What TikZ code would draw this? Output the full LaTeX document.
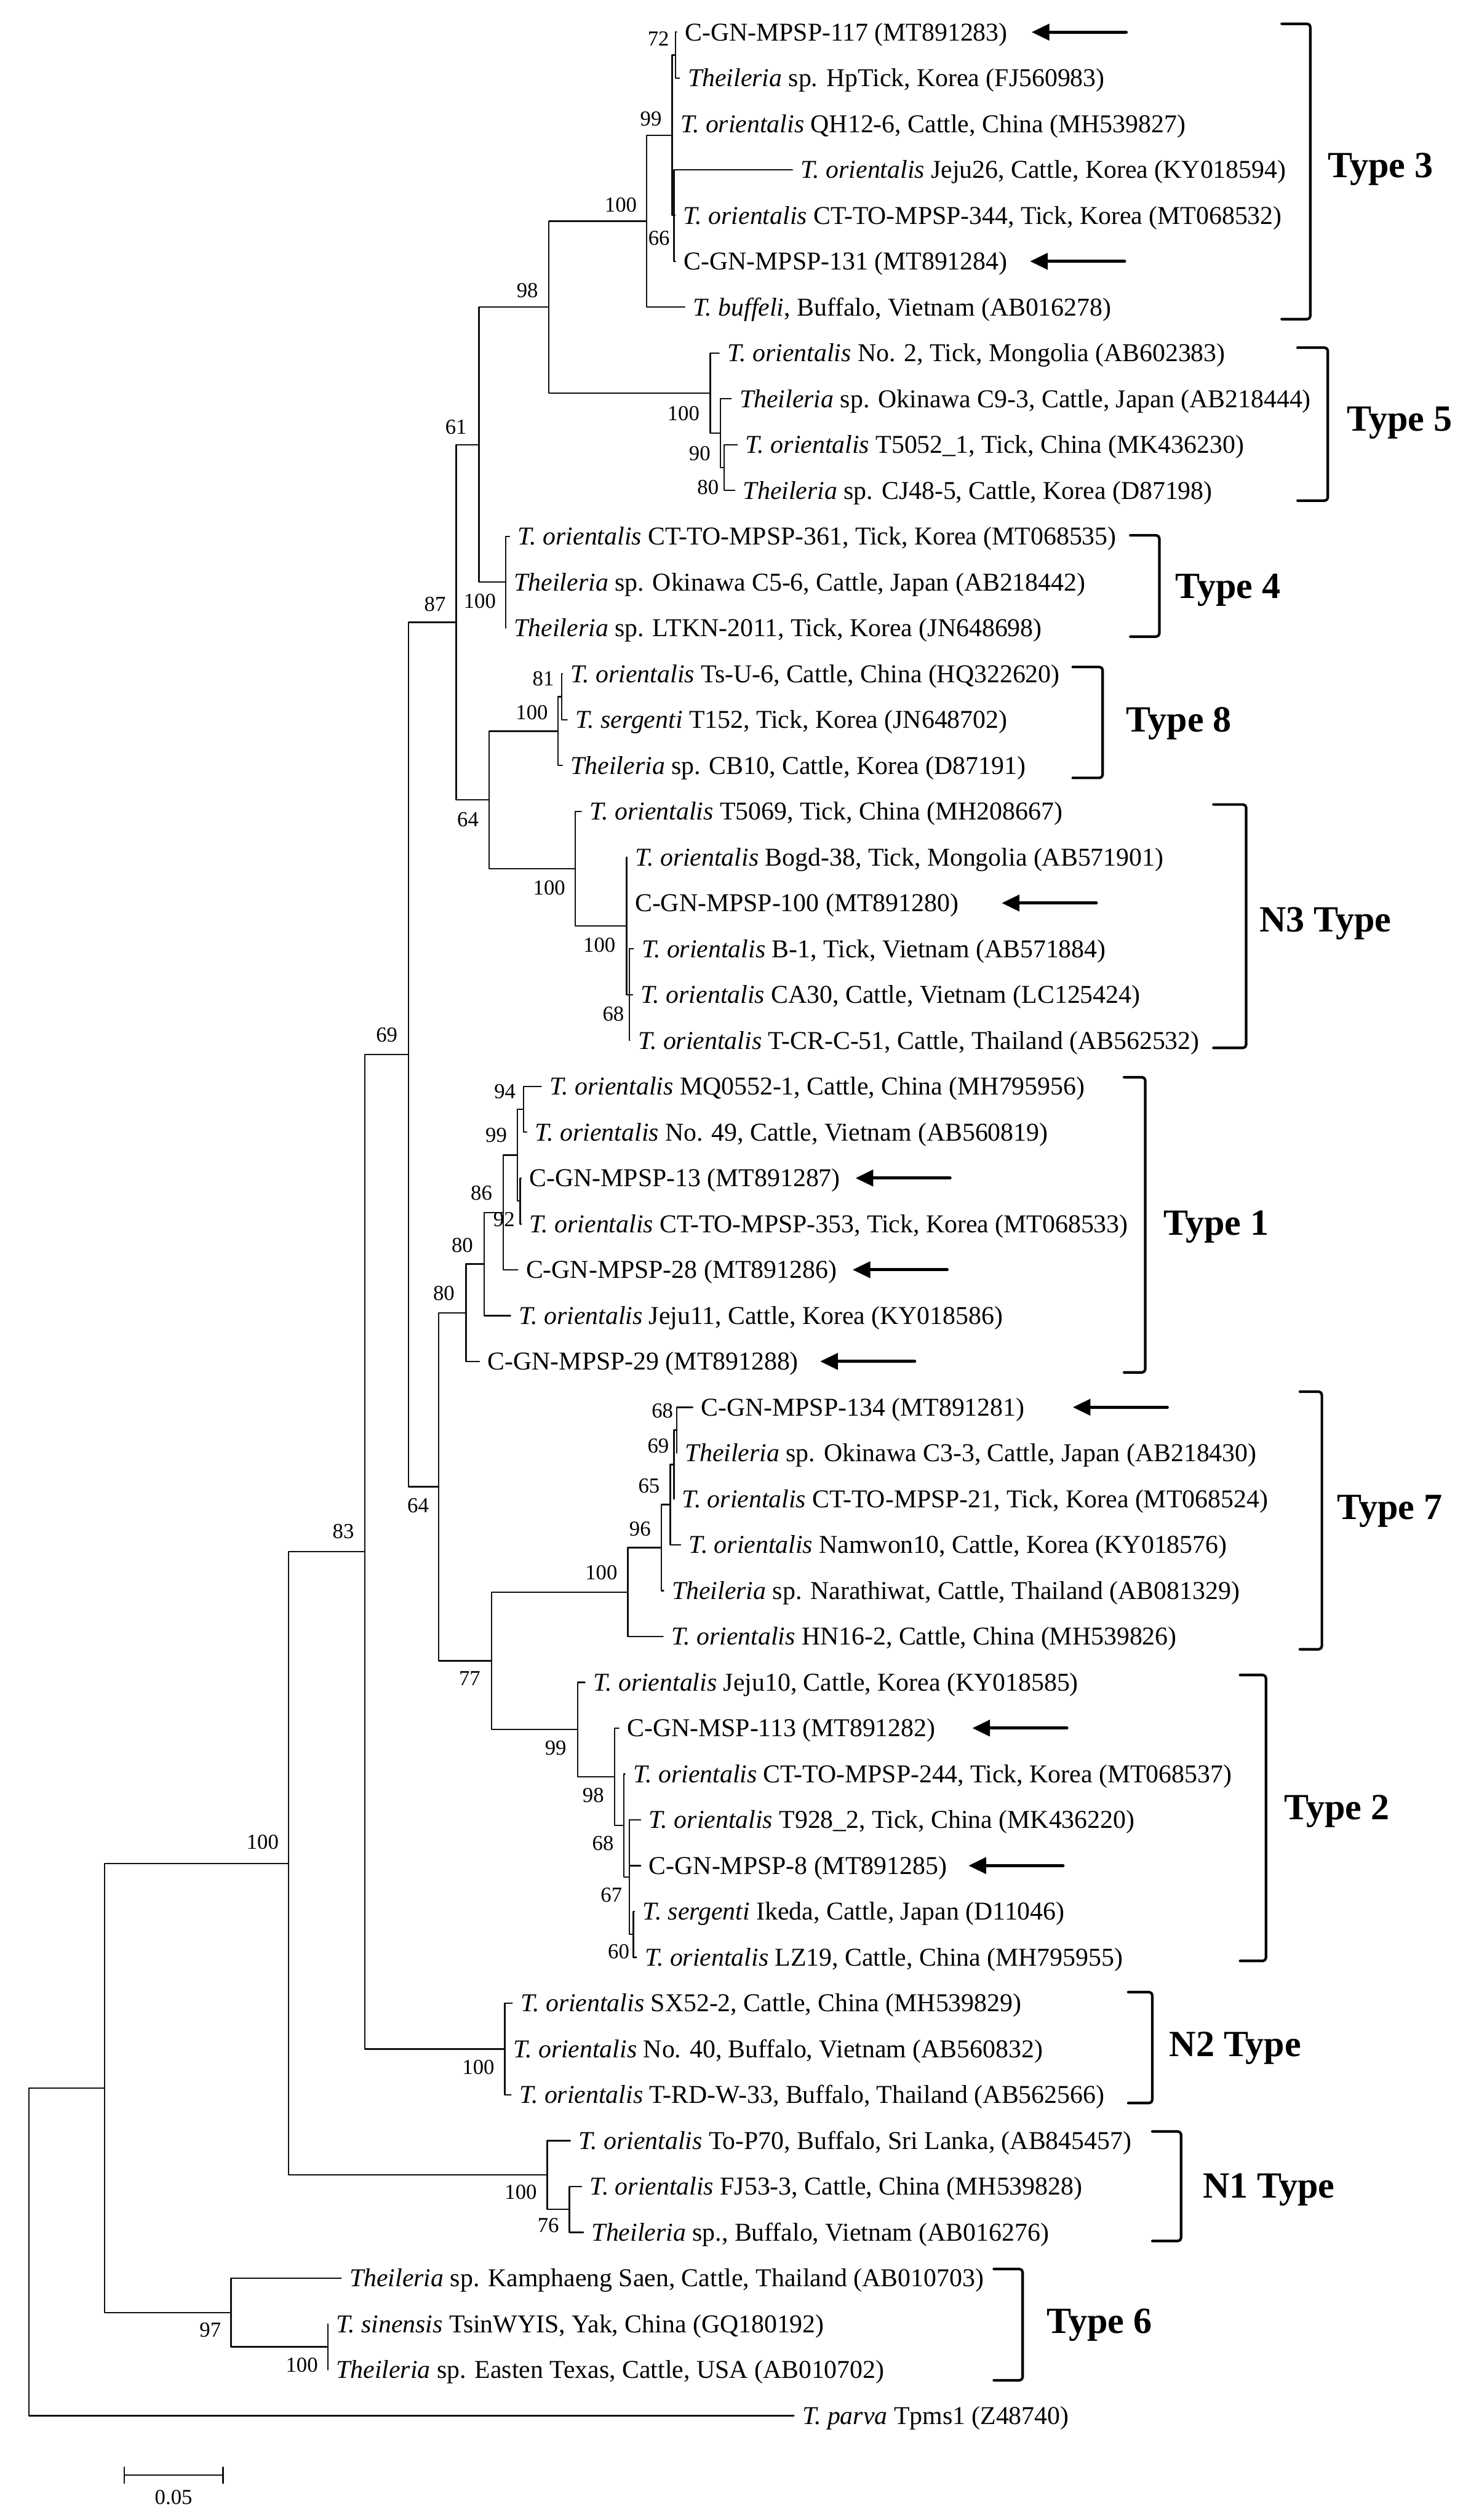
\documentclass[tikz,border=0pt]{standalone}
\usepackage{fontspec}
\setmainfont{Liberation Serif}
\usepackage{tikz}
\usetikzlibrary{arrows.meta}
\definecolor{treeink}{HTML}{111111}
\newcommand{\Tor}{\textit{T. orientalis}}
\newcommand{\Thl}{\textit{Theileria}}
% leaf tip + its label
\newcommand{\leafat}[4]{\coordinate (#1) at (#2,#3);
  \node[leaflab] (#1lab) at (#1) {#4};}
% arrow pointing at a new isolate
\newcommand{\isomark}[3]{\coordinate (#1) at (#2,#3);
  \draw[pointer] (#1) ++(58.8,0) -- (#1);}

\begin{document}
\begin{tikzpicture}[
    x=1pt, y=-28.52pt,
    line cap=round, line join=round,
    branch/.style={draw=treeink, line width=0.9pt},
    leaflab/.style={anchor=base west, inner sep=0pt, xshift=5pt, yshift=-5.3pt, font=\fontsize{16}{19}\selectfont},
    boot/.style={anchor=east, inner sep=0pt, font=\fontsize{13.3}{15}\selectfont},
    clade/.style={draw=black, line width=1.6pt, rounded corners=2pt},
    cladelab/.style={anchor=base west, inner sep=0pt, yshift=-7pt, font=\fontsize{23}{27}\selectfont\bfseries},
    pointer/.style={draw=black, line width=2pt, -{Triangle[length=11pt, width=10pt]}}
  ]
    \useasboundingbox (0,0.2987) rectangle (915,55.277);

    % Leaves: Type 3
    \leafat{t1}{421.0}{1}{C-GN-MPSP-117 (MT891283)}
    \leafat{t2}{422.8}{2}{\Thl\ sp. HpTick, Korea (FJ560983)}
    \leafat{t3}{418.2}{3}{\Tor\ QH12-6, Cattle, China (MH539827)}
    \leafat{t4}{493.1}{4}{\Tor\ Jeju26, Cattle, Korea (KY018594)}
    \leafat{t5}{420.0}{5}{\Tor\ CT-TO-MPSP-344, Tick, Korea (MT068532)}
    \leafat{t6}{420.3}{6}{C-GN-MPSP-131 (MT891284)}
    \leafat{t7}{426.1}{7}{\textit{T. buffeli}, Buffalo, Vietnam (AB016278)}
    % Type 5
    \leafat{t8}{447.4}{8}{\Tor\ No. 2, Tick, Mongolia (AB602383)}
    \leafat{t9}{455.0}{9}{\Thl\ sp. Okinawa C9-3, Cattle, Japan (AB218444)}
    \leafat{t10}{458.7}{10}{\Tor\ T5052\_1, Tick, China (MK436230)}
    \leafat{t11}{457.2}{11}{\Thl\ sp. CJ48-5, Cattle, Korea (D87198)}
    % Type 4
    \leafat{t12}{317.0}{12}{\Tor\ CT-TO-MPSP-361, Tick, Korea (MT068535)}
    \leafat{t13}{314.7}{13}{\Thl\ sp. Okinawa C5-6, Cattle, Japan (AB218442)}
    \leafat{t14}{314.7}{14}{\Thl\ sp. LTKN-2011, Tick, Korea (JN648698)}
    % Type 8
    \leafat{t15}{349.9}{15}{\Tor\ Ts-U-6, Cattle, China (HQ322620)}
    \leafat{t16}{352.9}{16}{\textit{T. sergenti} T152, Tick, Korea (JN648702)}
    \leafat{t17}{349.9}{17}{\Thl\ sp. CB10, Cattle, Korea (D87191)}
    % N3 Type
    \leafat{t18}{361.7}{18}{\Tor\ T5069, Tick, China (MH208667)}
    \leafat{t19}{389.9}{19}{\Tor\ Bogd-38, Tick, Mongolia (AB571901)}
    \leafat{t20}{389.9}{20}{C-GN-MPSP-100 (MT891280)}
    \leafat{t21}{394.1}{21}{\Tor\ B-1, Tick, Vietnam (AB571884)}
    \leafat{t22}{393.6}{22}{\Tor\ CA30, Cattle, Vietnam (LC125424)}
    \leafat{t23}{391.8}{23}{\Tor\ T-CR-C-51, Cattle, Thailand (AB562532)}
    % Type 1
    \leafat{t24}{336.8}{24}{\Tor\ MQ0552-1, Cattle, China (MH795956)}
    \leafat{t25}{327.7}{25}{\Tor\ No. 49, Cattle, Vietnam (AB560819)}
    \leafat{t26}{324.3}{26}{C-GN-MPSP-13 (MT891287)}
    \leafat{t27}{324.3}{27}{\Tor\ CT-TO-MPSP-353, Tick, Korea (MT068533)}
    \leafat{t28}{322.1}{28}{C-GN-MPSP-28 (MT891286)}
    \leafat{t29}{317.6}{29}{\Tor\ Jeju11, Cattle, Korea (KY018586)}
    \leafat{t30}{298.3}{30}{C-GN-MPSP-29 (MT891288)}
    % Type 7
    \leafat{t31}{431.0}{31}{C-GN-MPSP-134 (MT891281)}
    \leafat{t32}{421.2}{32}{\Thl\ sp. Okinawa C3-3, Cattle, Japan (AB218430)}
    \leafat{t33}{419.3}{33}{\Tor\ CT-TO-MPSP-21, Tick, Korea (MT068524)}
    \leafat{t34}{423.5}{34}{\Tor\ Namwon10, Cattle, Korea (KY018576)}
    \leafat{t35}{412.9}{35}{\Thl\ sp. Narathiwat, Cattle, Thailand (AB081329)}
    \leafat{t36}{412.6}{36}{\Tor\ HN16-2, Cattle, China (MH539826)}
    % Type 2
    \leafat{t37}{363.9}{37}{\Tor\ Jeju10, Cattle, Korea (KY018585)}
    \leafat{t38}{385.0}{38}{C-GN-MSP-113 (MT891282)}
    \leafat{t39}{388.8}{39}{\Tor\ CT-TO-MPSP-244, Tick, Korea (MT068537)}
    \leafat{t40}{398.6}{40}{\Tor\ T928\_2, Tick, China (MK436220)}
    \leafat{t41}{398.6}{41}{C-GN-MPSP-8 (MT891285)}
    \leafat{t42}{394.8}{42}{\textit{T. sergenti} Ikeda, Cattle, Japan (D11046)}
    \leafat{t43}{396.0}{43}{\Tor\ LZ19, Cattle, China (MH795955)}
    % N2 Type
    \leafat{t44}{318.7}{44}{\Tor\ SX52-2, Cattle, China (MH539829)}
    \leafat{t45}{314.1}{45}{\Tor\ No. 40, Buffalo, Vietnam (AB560832)}
    \leafat{t46}{317.9}{46}{\Tor\ T-RD-W-33, Buffalo, Thailand (AB562566)}
    % N1 Type
    \leafat{t47}{354.8}{47}{\Tor\ To-P70, Buffalo, Sri Lanka, (AB845457)}
    \leafat{t48}{361.9}{48}{\Tor\ FJ53-3, Cattle, China (MH539828)}
    \leafat{t49}{363.0}{49}{\Thl\ sp., Buffalo, Vietnam (AB016276)}
    % Type 6 and outgroup
    \leafat{t50}{212.3}{50}{\Thl\ sp. Kamphaeng Saen, Cattle, Thailand (AB010703)}
    \leafat{t51}{204.0}{51}{\textit{T. sinensis} TsinWYIS, Yak, China (GQ180192)}
    \leafat{t52}{204.0}{52}{\Thl\ sp. Easten Texas, Cattle, USA (AB010702)}
    \leafat{t53}{494.0}{53}{\textit{T. parva} Tpms1 (Z48740)}

    % Internal nodes (x = distance, y = midpoint of children)
    \coordinate (nRoot) at (18.1,49.4253);
    \coordinate (nA)    at (65.0,45.8506);
    \coordinate (nB)    at (179.5,40.9512);
    \coordinate (n83)   at (226.9,34.1523);
    \coordinate (n69)   at (254.3,23.3047);
    \coordinate (n87)   at (283.8,13.875);
    \coordinate (n61)   at (298.0,10);
    \coordinate (n98)   at (341.5,7);
    \coordinate (nT3)   at (402.3,5.125);
    \coordinate (n99a)  at (418.2,3.25);
    \coordinate (n72)   at (420.3,1.5);
    \coordinate (n66)   at (419.4,5);
    \coordinate (nT5)   at (441.9,8.875);
    \coordinate (n90)   at (448.2,9.75);
    \coordinate (n80a)  at (450.5,10.5);
    \coordinate (nT4)   at (314.7,13);
    \coordinate (n64a)  at (304.3,17.75);
    \coordinate (nT8)   at (347.1,16.25);
    \coordinate (n81)   at (349.4,15.5);
    \coordinate (nN3)   at (357.9,19.25);
    \coordinate (nN3b)  at (389.9,20.5);
    \coordinate (n68a)  at (391.5,22);
    \coordinate (n64b)  at (273.0,32.7344);
    \coordinate (n80b)  at (290.0,28.9375);
    \coordinate (n80c)  at (301.2,27.875);
    \coordinate (n86)   at (313.1,26.75);
    \coordinate (n99b)  at (322.0,25.5);
    \coordinate (n94)   at (325.8,24.5);
    \coordinate (n92)   at (323.7,26.5);
    \coordinate (n77)   at (305.8,36.5313);
    \coordinate (nT7)   at (390.6,35.0313);
    \coordinate (n96)   at (411.4,34.0625);
    \coordinate (n65)   at (417.0,33.125);
    \coordinate (n69b)  at (419.3,32.25);
    \coordinate (n68b)  at (421.2,31.5);
    \coordinate (nT2)   at (359.4,38.0313);
    \coordinate (n98b)  at (382.5,39.0625);
    \coordinate (n68c)  at (388.1,40.125);
    \coordinate (n67)   at (391.6,41.25);
    \coordinate (n60)   at (394.1,42.5);
    \coordinate (nN2)   at (314.1,45);
    \coordinate (nN1)   at (340.5,47.75);
    \coordinate (n76)   at (354.3,48.5);
    \coordinate (nT6)   at (143.7,50.75);
    \coordinate (n100c) at (204.0,51.5);

    % Branches
    \draw[branch] (nRoot) |- (nA) (nRoot) |- (t53);
    \draw[branch] (nA) |- (nB) (nA) |- (nT6);
    \draw[branch] (nB) |- (n83) (nB) |- (nN1);
    \draw[branch] (n83) |- (n69) (n83) |- (nN2);
    \draw[branch] (n69) |- (n87) (n69) |- (n64b);
    \draw[branch] (n87) |- (n61) (n87) |- (n64a);
    \draw[branch] (n61) |- (n98) (n61) |- (nT4);
    \draw[branch] (n98) |- (nT3) (n98) |- (nT5);
    \draw[branch] (nT3) |- (n99a) (nT3) |- (t7);
    \draw[branch] (n99a) |- (n72) (n99a) |- (t3) (n99a) |- (n66);
    \draw[branch] (n72) |- (t1) (n72) |- (t2);
    \draw[branch] (n66) |- (t4) (n66) |- (t5) (n66) |- (t6);
    \draw[branch] (nT5) |- (t8) (nT5) |- (n90);
    \draw[branch] (n90) |- (t9) (n90) |- (n80a);
    \draw[branch] (n80a) |- (t10) (n80a) |- (t11);
    \draw[branch] (nT4) |- (t12) (nT4) |- (t13) (nT4) |- (t14);
    \draw[branch] (n64a) |- (nT8) (n64a) |- (nN3);
    \draw[branch] (nT8) |- (n81) (nT8) |- (t17);
    \draw[branch] (n81) |- (t15) (n81) |- (t16);
    \draw[branch] (nN3) |- (t18) (nN3) |- (nN3b);
    \draw[branch] (nN3b) |- (t19) (nN3b) |- (t20) (nN3b) |- (n68a);
    \draw[branch] (n68a) |- (t21) (n68a) |- (t22) (n68a) |- (t23);
    \draw[branch] (n64b) |- (n80b) (n64b) |- (n77);
    \draw[branch] (n80b) |- (n80c) (n80b) |- (t30);
    \draw[branch] (n80c) |- (n86) (n80c) |- (t29);
    \draw[branch] (n86) |- (n99b) (n86) |- (t28);
    \draw[branch] (n99b) |- (n94) (n99b) |- (n92);
    \draw[branch] (n94) |- (t24) (n94) |- (t25);
    \draw[branch] (n92) |- (t26) (n92) |- (t27);
    \draw[branch] (n77) |- (nT7) (n77) |- (nT2);
    \draw[branch] (nT7) |- (n96) (nT7) |- (t36);
    \draw[branch] (n96) |- (n65) (n96) |- (t35);
    \draw[branch] (n65) |- (n69b) (n65) |- (t34);
    \draw[branch] (n69b) |- (n68b) (n69b) |- (t33);
    \draw[branch] (n68b) |- (t31) (n68b) |- (t32);
    \draw[branch] (nT2) |- (t37) (nT2) |- (n98b);
    \draw[branch] (n98b) |- (t38) (n98b) |- (n68c);
    \draw[branch] (n68c) |- (t39) (n68c) |- (n67);
    \draw[branch] (n67) |- (t40) (n67) |- (t41) (n67) |- (n60);
    \draw[branch] (n60) |- (t42) (n60) |- (t43);
    \draw[branch] (nN2) |- (t44) (nN2) |- (t45) (nN2) |- (t46);
    \draw[branch] (nN1) |- (t47) (nN1) |- (n76);
    \draw[branch] (n76) |- (t48) (n76) |- (t49);
    \draw[branch] (nT6) |- (t50) (nT6) |- (n100c);
    \draw[branch] (n100c) |- (t51) (n100c) |- (t52);

    % Bootstrap values
    \node[boot] (b72)   at (416.5,1.147) {72};
    \node[boot] (b99a)  at (411.9,2.89)  {99};
    \node[boot] (bT3)   at (396.4,4.77)  {100};
    \node[boot] (b66)   at (416.9,5.49)  {66};
    \node[boot] (b98)   at (335.0,6.64)  {98};
    \node[boot] (bT5)   at (435.4,9.32)  {100};
    \node[boot] (b90)   at (442.2,10.19) {90};
    \node[boot] (b80a)  at (447.4,10.93) {80};
    \node[boot] (b61)   at (290.6,9.61)  {61};
    \node[boot] (bT4)   at (308.7,13.42) {100};
    \node[boot] (b87)   at (277.5,13.48) {87};
    \node[boot] (b81)   at (344.9,15.1)  {81};
    \node[boot] (bT8)   at (341.1,15.84) {100};
    \node[boot] (b64a)  at (298.0,18.18) {64};
    \node[boot] (bN3)   at (351.9,19.67) {100};
    \node[boot] (bN3b)  at (383.1,20.92) {100};
    \node[boot] (b68a)  at (388.5,22.42) {68};
    \node[boot] (b69)   at (247.5,22.88) {69};
    \node[boot] (b94)   at (321.0,24.11) {94};
    \node[boot] (b99b)  at (315.6,25.07) {99};
    \node[boot] (b86)   at (306.4,26.33) {86};
    \node[boot] (b92)   at (320.5,26.9)  {92};
    \node[boot] (b80c)  at (294.5,27.47) {80};
    \node[boot] (b80b)  at (283.0,28.51) {80};
    \node[boot] (b68b)  at (419.0,31.08) {68};
    \node[boot] (b69b)  at (416.4,31.84) {69};
    \node[boot] (b65)   at (410.7,32.71) {65};
    \node[boot] (b96)   at (405.1,33.65) {96};
    \node[boot] (b64b)  at (267.0,33.14) {64};
    \node[boot] (bT7)   at (384.3,34.61) {100};
    \node[boot] (b77)   at (299.1,36.92) {77};
    \node[boot] (bT2)   at (352.6,38.43) {99};
    \node[boot] (b98b)  at (376.0,39.46) {98};
    \node[boot] (b68c)  at (382.0,40.52) {68};
    \node[boot] (b67)   at (387.3,41.64) {67};
    \node[boot] (b60)   at (391.8,42.88) {60};
    \node[boot] (b83)   at (220.5,33.71) {83};
    \node[boot] (bB)    at (173.6,40.49) {100};
    \node[boot] (bN2)   at (307.8,45.4)  {100};
    \node[boot] (bN1)   at (334.2,48.12) {100};
    \node[boot] (b76)   at (348.0,48.85) {76};
    \node[boot] (b97)   at (137.7,51.13) {97};
    \node[boot] (b100c) at (198.0,51.89) {100};

    % New isolates
    \isomark{m117}{641.9}{1}
    \isomark{m131}{640.9}{6}
    \isomark{m100}{623.3}{20}
    \isomark{m13}{532.3}{26}
    \isomark{m28}{530.5}{28}
    \isomark{m29}{510.3}{30}
    \isomark{m134}{667.5}{31}
    \isomark{m113}{605.0}{38}
    \isomark{m8}{602.6}{41}

    % Genotype brackets
    \draw[clade] (797.5,0.818) -| (815.3,7.262) -- (797.5,7.262);
    \node[cladelab] (type3) at (826.2,3.93) {Type 3};
    \draw[clade] (807.4,7.883) -| (826.2,11.221) -- (807.4,11.221);
    \node[cladelab] (type5) at (838.0,9.46) {Type 5};
    \draw[clade] (703.3,11.978) -| (721.4,14.187) -- (703.3,14.187);
    \node[cladelab] (type4) at (731.2,13.1) {Type 4};
    \draw[clade] (667.5,14.85) -| (686.1,17.27) -- (667.5,17.27);
    \node[cladelab] (type8) at (700.7,16.02) {Type 8};
    \draw[clade] (755.0,17.85) -| (775.4,23.16) -- (755.0,23.16);
    \node[cladelab] (typeN3) at (783.4,20.38) {N3 Type};
    \draw[clade] (699.4,23.80) -| (712.6,30.24) -- (699.4,30.24);
    \node[cladelab] (type1) at (724.0,27.0) {Type 1};
    \draw[clade] (808.8,30.66) -| (822.5,36.28) -- (808.8,36.28);
    \node[cladelab] (type7) at (831.9,33.2) {Type 7};
    \draw[clade] (771.6,36.84) -| (787.7,43.08) -- (771.6,43.08);
    \node[cladelab] (type2) at (799.0,39.75) {Type 2};
    \draw[clade] (702.0,43.76) -| (717.0,46.18) -- (702.0,46.18);
    \node[cladelab] (typeN2) at (727.4,44.92) {N2 Type};
    \draw[clade] (717.0,46.80) -| (734.9,49.19) -- (717.0,49.19);
    \node[cladelab] (typeN1) at (748.3,48.01) {N1 Type};
    \draw[clade] (618.4,49.80) -| (636.3,52.23) -- (618.4,52.23);
    \node[cladelab] (type6) at (651.2,50.96) {Type 6};

    % Scale bar
    \coordinate (sb0) at (77.4,54.3);
    \coordinate (sb1) at (138.7,54.3);
    \draw[branch] (sb0) -- (sb1) (sb0) +(0,-0.175) -- +(0,0.175) (sb1) +(0,-0.175) -- +(0,0.175);
    \node[boot, anchor=center] (sblab) at (108.0,54.78) {0.05};

  \end{tikzpicture}
\end{document}
